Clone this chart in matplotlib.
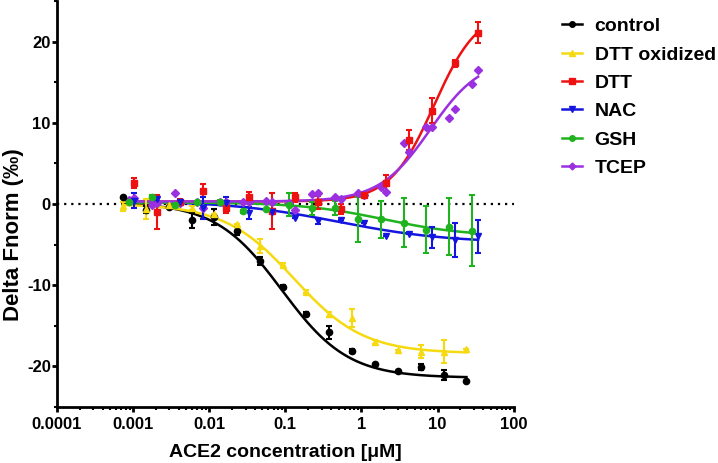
import matplotlib
matplotlib.use("Agg")
import matplotlib.pyplot as plt
import numpy as np
from matplotlib.ticker import LogLocator, NullFormatter, MultipleLocator, FixedLocator

plt.rcParams['font.family'] = ['Liberation Sans', 'DejaVu Sans']
plt.rcParams['font.weight'] = 'bold'
plt.rcParams['axes.unicode_minus'] = False

# concentrations [uM] (three dilution series)
conc_a = [0.00073, 0.00146, 0.00293, 0.00586, 0.0117, 0.0234, 0.0469, 0.0938,
          0.1875, 0.375, 0.75, 1.5, 3.0, 6.0, 12.0, 24.0]
conc_b = [0.00104, 0.00208, 0.00417, 0.00833, 0.0167, 0.0333, 0.0667, 0.133,
          0.267, 0.533, 1.07, 2.13, 4.27, 8.53, 17.1, 34.1]
conc_c = [0.00087, 0.00175, 0.0035, 0.0070, 0.0140, 0.0280, 0.0559, 0.112,
          0.224, 0.447, 0.894, 1.79, 3.58, 7.15, 14.3, 28.6]

# Delta Fnorm (permille) and SD
control = [0.8, -0.7, -0.4, -2.0, -1.6, -3.3, -7.0, -10.2, -13.5, -15.8, -18.1, -19.7, -20.6, -20.1, -21.1, -21.8]
control_err = [0, 0.4, 0, 0.9, 1.0, 0.5, 0.5, 0.2, 0.2, 0.8, 0.3, 0, 0, 0.4, 0.6, 0]
dtt_ox = [-0.3, -0.6, -0.1, -0.5, -1.2, -2.5, -5.2, -7.5, -10.8, -13.6, -14.0, -17.0, -18.0, -18.2, -18.2, -17.9]
dtt_ox_err = [0.6, 1.2, 0, 0.3, 0, 0, 0.9, 0.2, 0.2, 0.3, 1.1, 0.2, 0, 0.8, 1.4, 0]
dtt = [2.6, -1.0, 0.3, 1.6, -0.5, 0.9, -0.9, 0.8, 0.2, -0.6, 1.1, 2.6, 7.9, 11.5, 17.3, 21.1]
dtt_err = [0.6, 2.1, 0.3, 0.8, 0.6, 0.6, 2.2, 0.6, 0.8, 0.6, 0.3, 1.0, 1.2, 1.5, 0.4, 1.3]
nac = [0.4, 0.6, 0.3, -0.5, 0.1, -1.1, -1.0, -1.7, -2.1, -2.0, -2.4, -4.0, -3.7, -4.1, -4.4, -4.0]
nac_err = [0.9, 0.2, 0.2, 1.4, 0.8, 0.7, 0, 0, 0.4, 0, 0, 0, 0, 1.3, 2.1, 2.0]
gsh = [0.3, 0.9, -0.1, 0.2, 0.3, -0.9, -0.6, -0.1, -0.5, -0.5, -1.9, -1.9, -2.3, -3.2, -2.8, -3.3]
gsh_err = [0, 0.2, 0, 0, 0.2, 0.2, 0, 1.4, 0.8, 0.9, 2.8, 2.3, 3.0, 2.9, 3.5, 4.4]
tcep_a = [0.5, -0.1, 1.4, 0.3, 0.3, 0.2, 0.4, 0.1, 1.2, 0.9, 1.4, 2.1, 7.5, 9.5, 10.6, 14.8]
tcep_b = [0.7, 0.1, 0.1, -0.5, 0.2, 0.2, 0.3, -0.7, 1.3, 0.6, 1.1, 1.5, 6.4, 9.5, 11.7, 16.5]

# fitted dose-response parameters: (low-conc value, high-conc value, EC50, hill)
fit_control = (0.2, -21.4, 0.09, 1.0)
fit_dtt_ox = (0.0, -18.4, 0.13, 0.95)
fit_dtt = (0.3, 24.0, 9.0, 1.5)
fit_nac = (0.4, -4.8, 0.5, 0.6)
fit_gsh = (0.2, -4.0, 2.0, 0.8)
fit_tcep = (0.3, 18.0, 8.0, 1.3)


def hill(x, lo, hi, ec50, n):
    return lo + (hi - lo) / (1 + (ec50 / x) ** n)


c_black = 'black'
c_yellow = '#F5DA12'
c_red = '#EE1111'
c_blue = '#1515E0'
c_green = '#1FB31F'
c_purple = '#9B30E0'

fig = plt.figure(figsize=(7.18, 4.63), dpi=100)
ax = fig.add_axes([0.0794, 0.121, 0.636, 0.877])

ax.axhline(0, color='black', linestyle=(0, (1, 2.2)), linewidth=1.6, zorder=1)

series = [
    ('control', conc_a, control, control_err, fit_control, c_black, 'o'),
    ('DTT oxidized', conc_a, dtt_ox, dtt_ox_err, fit_dtt_ox, c_yellow, '^'),
    ('DTT', conc_b, dtt, dtt_err, fit_dtt, c_red, 's'),
    ('NAC', conc_b, nac, nac_err, fit_nac, c_blue, 'v'),
    ('GSH', conc_c, gsh, gsh_err, fit_gsh, c_green, 'o'),
]

handles = []
for name, x, y, e, fit, col, mk in series:
    ax.errorbar(x, y, yerr=e, fmt=mk, color=col, ms=4.5, capsize=2.5,
                elinewidth=1.5, capthick=1.5, zorder=3)
    xc = np.logspace(np.log10(min(x)), np.log10(max(x)), 300)
    ax.plot(xc, hill(xc, *fit), color=col, linewidth=1.8, zorder=2)
    h, = ax.plot([], [], color=col, marker=mk, ms=4, linewidth=1.8, label=name)
    handles.append(h)

# TCEP: two replicate series, no error bars
ax.plot(conc_c, tcep_a, 'D', color=c_purple, ms=3.8, zorder=3)
ax.plot(conc_b, tcep_b, 'D', color=c_purple, ms=3.8, zorder=3)
xc = np.logspace(np.log10(min(conc_c)), np.log10(max(conc_b)), 300)
ax.plot(xc, hill(xc, *fit_tcep), color=c_purple, linewidth=1.8, zorder=2)
h, = ax.plot([], [], color=c_purple, marker='D', ms=3.5, linewidth=1.8, label='TCEP')
handles.append(h)

ax.set_xscale('log')
ax.set_xlim(1e-4, 100)
ax.set_ylim(-25, 25)
ax.xaxis.set_major_locator(FixedLocator([1e-4, 1e-3, 1e-2, 1e-1, 1, 10, 100]))
ax.set_xticklabels(['0.0001', '0.001', '0.01', '0.1', '1', '10', '100'])
ax.xaxis.set_minor_locator(LogLocator(base=10, subs=np.arange(2, 10), numticks=20))
ax.xaxis.set_minor_formatter(NullFormatter())
ax.set_yticks([-20, -10, 0, 10, 20])
ax.yaxis.set_minor_locator(MultipleLocator(5))

for s in ['top', 'right']:
    ax.spines[s].set_visible(False)
for s in ['left', 'bottom']:
    ax.spines[s].set_linewidth(2)
ax.tick_params(which='major', length=3.5, width=2, labelsize=12, direction='out')
ax.tick_params(axis='y', which='major', pad=1)
ax.tick_params(axis='x', which='major', pad=4)
ax.tick_params(which='minor', length=2.2, width=1.5, direction='out')
for lab in ax.get_xticklabels() + ax.get_yticklabels():
    lab.set_fontweight('bold')

ax.set_xlabel('ACE2 concentration [\u03bcM]', fontsize=14, fontweight='bold', labelpad=8)
ax.set_ylabel('Delta Fnorm (\u2030)', fontsize=16, fontweight='bold')
ax.yaxis.set_label_coords(-0.0726, 0.424)

leg = fig.legend(handles=handles, loc='upper left', bbox_to_anchor=(0.766, 0.987),
                 frameon=False, handlelength=1.05, handletextpad=0.65,
                 labelspacing=0.55, borderpad=0.3, borderaxespad=0.3,
                 prop={'weight': 'bold', 'size': 14})

fig.savefig('out.png', dpi=100)
